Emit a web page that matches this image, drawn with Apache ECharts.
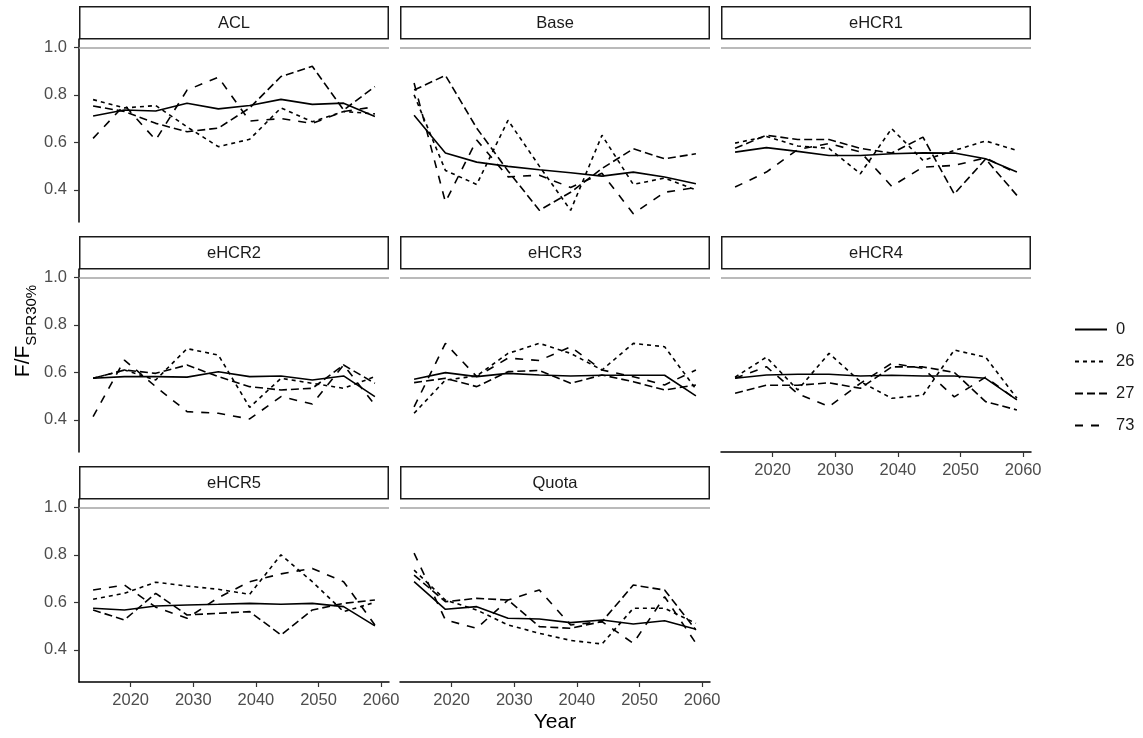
<!DOCTYPE html>
<html>
<head>
<meta charset="utf-8">
<script src="https://cdn.jsdelivr.net/npm/echarts@6/dist/echarts.min.js"></script>
<style>
  html, body { margin: 0; padding: 0; background: #fff; }
  #chart { width: 1143px; height: 738px; }
</style>
</head>
<body>
<div id="chart"></div>
<script>
// ---- data ----
const years = [2014, 2019, 2024, 2029, 2034, 2039, 2044, 2049, 2054, 2059];
const panelNames = ['ACL', 'Base', 'eHCR1', 'eHCR2', 'eHCR3', 'eHCR4', 'eHCR5', 'Quota'];
const seriesNames = ['0', '26', '27', '73'];
const yTicks = [0.4, 0.6, 0.8, 1.0];
const xTicks = [2020, 2030, 2040, 2050, 2060];
const refLevel = 1.0;

const ACL_0  = [0.711, 0.736, 0.732, 0.765, 0.741, 0.755, 0.781, 0.760, 0.765, 0.709];
const ACL_26 = [0.780, 0.745, 0.755, 0.665, 0.582, 0.613, 0.745, 0.687, 0.730, 0.720];
const ACL_27 = [0.753, 0.730, 0.680, 0.645, 0.660, 0.745, 0.877, 0.920, 0.736, 0.835];
const ACL_73 = [0.617, 0.757, 0.610, 0.820, 0.874, 0.690, 0.700, 0.680, 0.730, 0.750];

const Base_0  = [0.714, 0.555, 0.517, 0.499, 0.485, 0.472, 0.458, 0.475, 0.454, 0.426];
const Base_26 = [0.800, 0.482, 0.423, 0.693, 0.500, 0.314, 0.630, 0.423, 0.450, 0.400];
const Base_27 = [0.820, 0.882, 0.660, 0.480, 0.314, 0.390, 0.490, 0.573, 0.531, 0.552];
const Base_73 = [0.850, 0.349, 0.610, 0.455, 0.462, 0.410, 0.470, 0.300, 0.390, 0.410];

const eHCR1_0  = [0.559, 0.578, 0.562, 0.545, 0.545, 0.552, 0.556, 0.555, 0.531, 0.475];
const eHCR1_26 = [0.597, 0.625, 0.585, 0.575, 0.468, 0.658, 0.524, 0.566, 0.606, 0.566];
const eHCR1_27 = [0.575, 0.630, 0.612, 0.612, 0.575, 0.555, 0.622, 0.383, 0.530, 0.377];
const eHCR1_73 = [0.412, 0.475, 0.570, 0.595, 0.560, 0.415, 0.496, 0.503, 0.535, 0.470];

const eHCR2_0  = [0.575, 0.582, 0.582, 0.580, 0.603, 0.582, 0.585, 0.568, 0.585, 0.498];
const eHCR2_26 = [0.575, 0.610, 0.568, 0.700, 0.673, 0.453, 0.575, 0.554, 0.533, 0.582];
const eHCR2_27 = [0.575, 0.610, 0.596, 0.631, 0.582, 0.540, 0.526, 0.533, 0.631, 0.554];
const eHCR2_73 = [0.414, 0.652, 0.540, 0.435, 0.428, 0.404, 0.498, 0.467, 0.631, 0.463];

const eHCR3_0  = [0.571, 0.599, 0.582, 0.596, 0.589, 0.585, 0.588, 0.588, 0.588, 0.501];
const eHCR3_26 = [0.428, 0.568, 0.585, 0.680, 0.722, 0.680, 0.610, 0.722, 0.708, 0.530];
const eHCR3_27 = [0.557, 0.575, 0.540, 0.603, 0.608, 0.554, 0.589, 0.561, 0.526, 0.547];
const eHCR3_73 = [0.455, 0.722, 0.582, 0.660, 0.650, 0.708, 0.610, 0.582, 0.547, 0.610];

const eHCR4_0  = [0.575, 0.589, 0.592, 0.592, 0.585, 0.588, 0.585, 0.585, 0.575, 0.484];
const eHCR4_26 = [0.580, 0.664, 0.526, 0.680, 0.561, 0.491, 0.504, 0.694, 0.664, 0.491];
const eHCR4_27 = [0.512, 0.546, 0.546, 0.556, 0.533, 0.623, 0.623, 0.600, 0.477, 0.442];
const eHCR4_73 = [0.575, 0.624, 0.510, 0.456, 0.554, 0.638, 0.617, 0.497, 0.580, 0.484];

const eHCR5_0  = [0.575, 0.568, 0.585, 0.589, 0.592, 0.596, 0.592, 0.596, 0.582, 0.501];
const eHCR5_26 = [0.613, 0.638, 0.685, 0.669, 0.655, 0.634, 0.800, 0.687, 0.561, 0.600];
const eHCR5_27 = [0.568, 0.526, 0.638, 0.547, 0.554, 0.561, 0.463, 0.568, 0.596, 0.610];
const eHCR5_73 = [0.652, 0.673, 0.580, 0.533, 0.620, 0.687, 0.720, 0.743, 0.687, 0.505];

const Quota_0  = [0.687, 0.571, 0.582, 0.533, 0.530, 0.515, 0.526, 0.509, 0.523, 0.487];
const Quota_26 = [0.736, 0.610, 0.568, 0.505, 0.470, 0.440, 0.425, 0.575, 0.575, 0.512];
const Quota_27 = [0.715, 0.603, 0.617, 0.610, 0.498, 0.491, 0.519, 0.673, 0.652, 0.484];
const Quota_73 = [0.807, 0.526, 0.491, 0.610, 0.652, 0.505, 0.519, 0.428, 0.624, 0.428];

const panelData = {
  ACL:   [ACL_0, ACL_26, ACL_27, ACL_73],
  Base:  [Base_0, Base_26, Base_27, Base_73],
  eHCR1: [eHCR1_0, eHCR1_26, eHCR1_27, eHCR1_73],
  eHCR2: [eHCR2_0, eHCR2_26, eHCR2_27, eHCR2_73],
  eHCR3: [eHCR3_0, eHCR3_26, eHCR3_27, eHCR3_73],
  eHCR4: [eHCR4_0, eHCR4_26, eHCR4_27, eHCR4_73],
  eHCR5: [eHCR5_0, eHCR5_26, eHCR5_27, eHCR5_73],
  Quota: [Quota_0, Quota_26, Quota_27, Quota_73]
};

// ---- layout / style ----
const FONT = 'Liberation Sans, Arial, Helvetica, sans-serif';
const colLeft = [79, 400, 721];
const rowTop = [39, 269, 499];
const panelW = 310, panelH = 183;
const stripH = 32;
const dashes = ['solid', [4, 4], [8, 4], [8, 8]];
const X_MIN = 2011.75, X_MAX = 2061.25;
const Y_MIN = 0.265, Y_MAX = 1.035;

const grids = [], xAxes = [], yAxes = [], series = [], graphics = [];

panelNames.forEach((name, i) => {
  const row = Math.floor(i / 3), col = i % 3;
  const left = colLeft[col], top = rowTop[row];
  const showY = col === 0;
  const showX = row === 2 || (row === 1 && col === 2);

  grids.push({ left: left, top: top, width: panelW, height: panelH, containLabel: false });

  xAxes.push({
    type: 'value', gridIndex: i, min: X_MIN, max: X_MAX,
    axisLine: { show: showX, onZero: false, lineStyle: { color: '#000', width: 1.5 } },
    axisTick: { show: showX, customValues: xTicks, length: 5, lineStyle: { color: '#333', width: 1.2 } },
    axisLabel: { show: showX, customValues: xTicks, margin: 10, color: '#4d4d4d', fontSize: 16.5, fontFamily: FONT,
                 formatter: v => String(Math.round(v)) },
    splitLine: { show: false }
  });

  yAxes.push({
    type: 'value', gridIndex: i, min: Y_MIN, max: Y_MAX,
    axisLine: { show: showY, onZero: false, lineStyle: { color: '#000', width: 1.5 } },
    axisTick: { show: showY, customValues: yTicks, length: 5, lineStyle: { color: '#333', width: 1.2 } },
    axisLabel: { show: showY, customValues: yTicks, margin: 12, color: '#4d4d4d', fontSize: 16.5, fontFamily: FONT,
                 formatter: v => v.toFixed(1) },
    splitLine: { show: false }
  });

  panelData[name].forEach((vals, k) => {
    const s = {
      name: seriesNames[k], type: 'line', xAxisIndex: i, yAxisIndex: i,
      data: years.map((y, j) => [y, vals[j]]),
      symbol: 'none', showSymbol: false, silent: true, animation: false,
      lineStyle: { color: '#000', width: 1.6, type: dashes[k] },
      itemStyle: { color: '#000' },
      z: k === 0 ? 4 : 3
    };
    if (k === 0) {
      s.markLine = {
        silent: true, symbol: ['none', 'none'], animation: false,
        label: { show: false },
        lineStyle: { color: '#a3a3a3', width: 1.6, type: 'solid' },
        data: [{ yAxis: refLevel }]
      };
    }
    series.push(s);
  });

  // facet strip
  graphics.push({
    type: 'rect', silent: true,
    shape: { x: left + 0.75, y: top - stripH - 0.25, width: panelW - 1.5, height: stripH },
    style: { fill: '#fff', stroke: '#1a1a1a', lineWidth: 1.5 }
  });
  graphics.push({
    type: 'text', silent: true,
    x: left + panelW / 2, y: top - stripH / 2,
    style: { text: name, fill: '#1a1a1a', font: '16.5px ' + FONT, align: 'center', verticalAlign: 'middle' }
  });
});

// axis titles
graphics.push({
  type: 'text', silent: true, x: 555, y: 722,
  style: { text: 'Year', fill: '#000', font: '21px ' + FONT, align: 'center', verticalAlign: 'middle' }
});
graphics.push({
  type: 'text', silent: true, x: 26, y: 331, rotation: Math.PI / 2,
  style: {
    text: '{f|F/F}{s|SPR30%}', align: 'center', verticalAlign: 'middle',
    rich: {
      f: { fontSize: 21, fontFamily: FONT, fill: '#000', lineHeight: 26, verticalAlign: 'top' },
      s: { fontSize: 15, fontFamily: FONT, fill: '#000', lineHeight: 15, verticalAlign: 'bottom' }
    }
  }
});

const chart = echarts.init(document.getElementById('chart'), null, { renderer: 'canvas' });
chart.setOption({
  animation: false,
  backgroundColor: '#fff',
  grid: grids,
  xAxis: xAxes,
  yAxis: yAxes,
  series: series,
  legend: {
    data: seriesNames, orient: 'vertical', left: 1069, top: 316,
    itemWidth: 32, itemHeight: 20, itemGap: 15,
    selectedMode: false,
    itemStyle: { opacity: 0 },
    textStyle: { fontSize: 16.5, color: '#1a1a1a', fontFamily: FONT, padding: [0, 0, 0, 4] }
  },
  graphic: graphics
});
</script>
</body>
</html>
